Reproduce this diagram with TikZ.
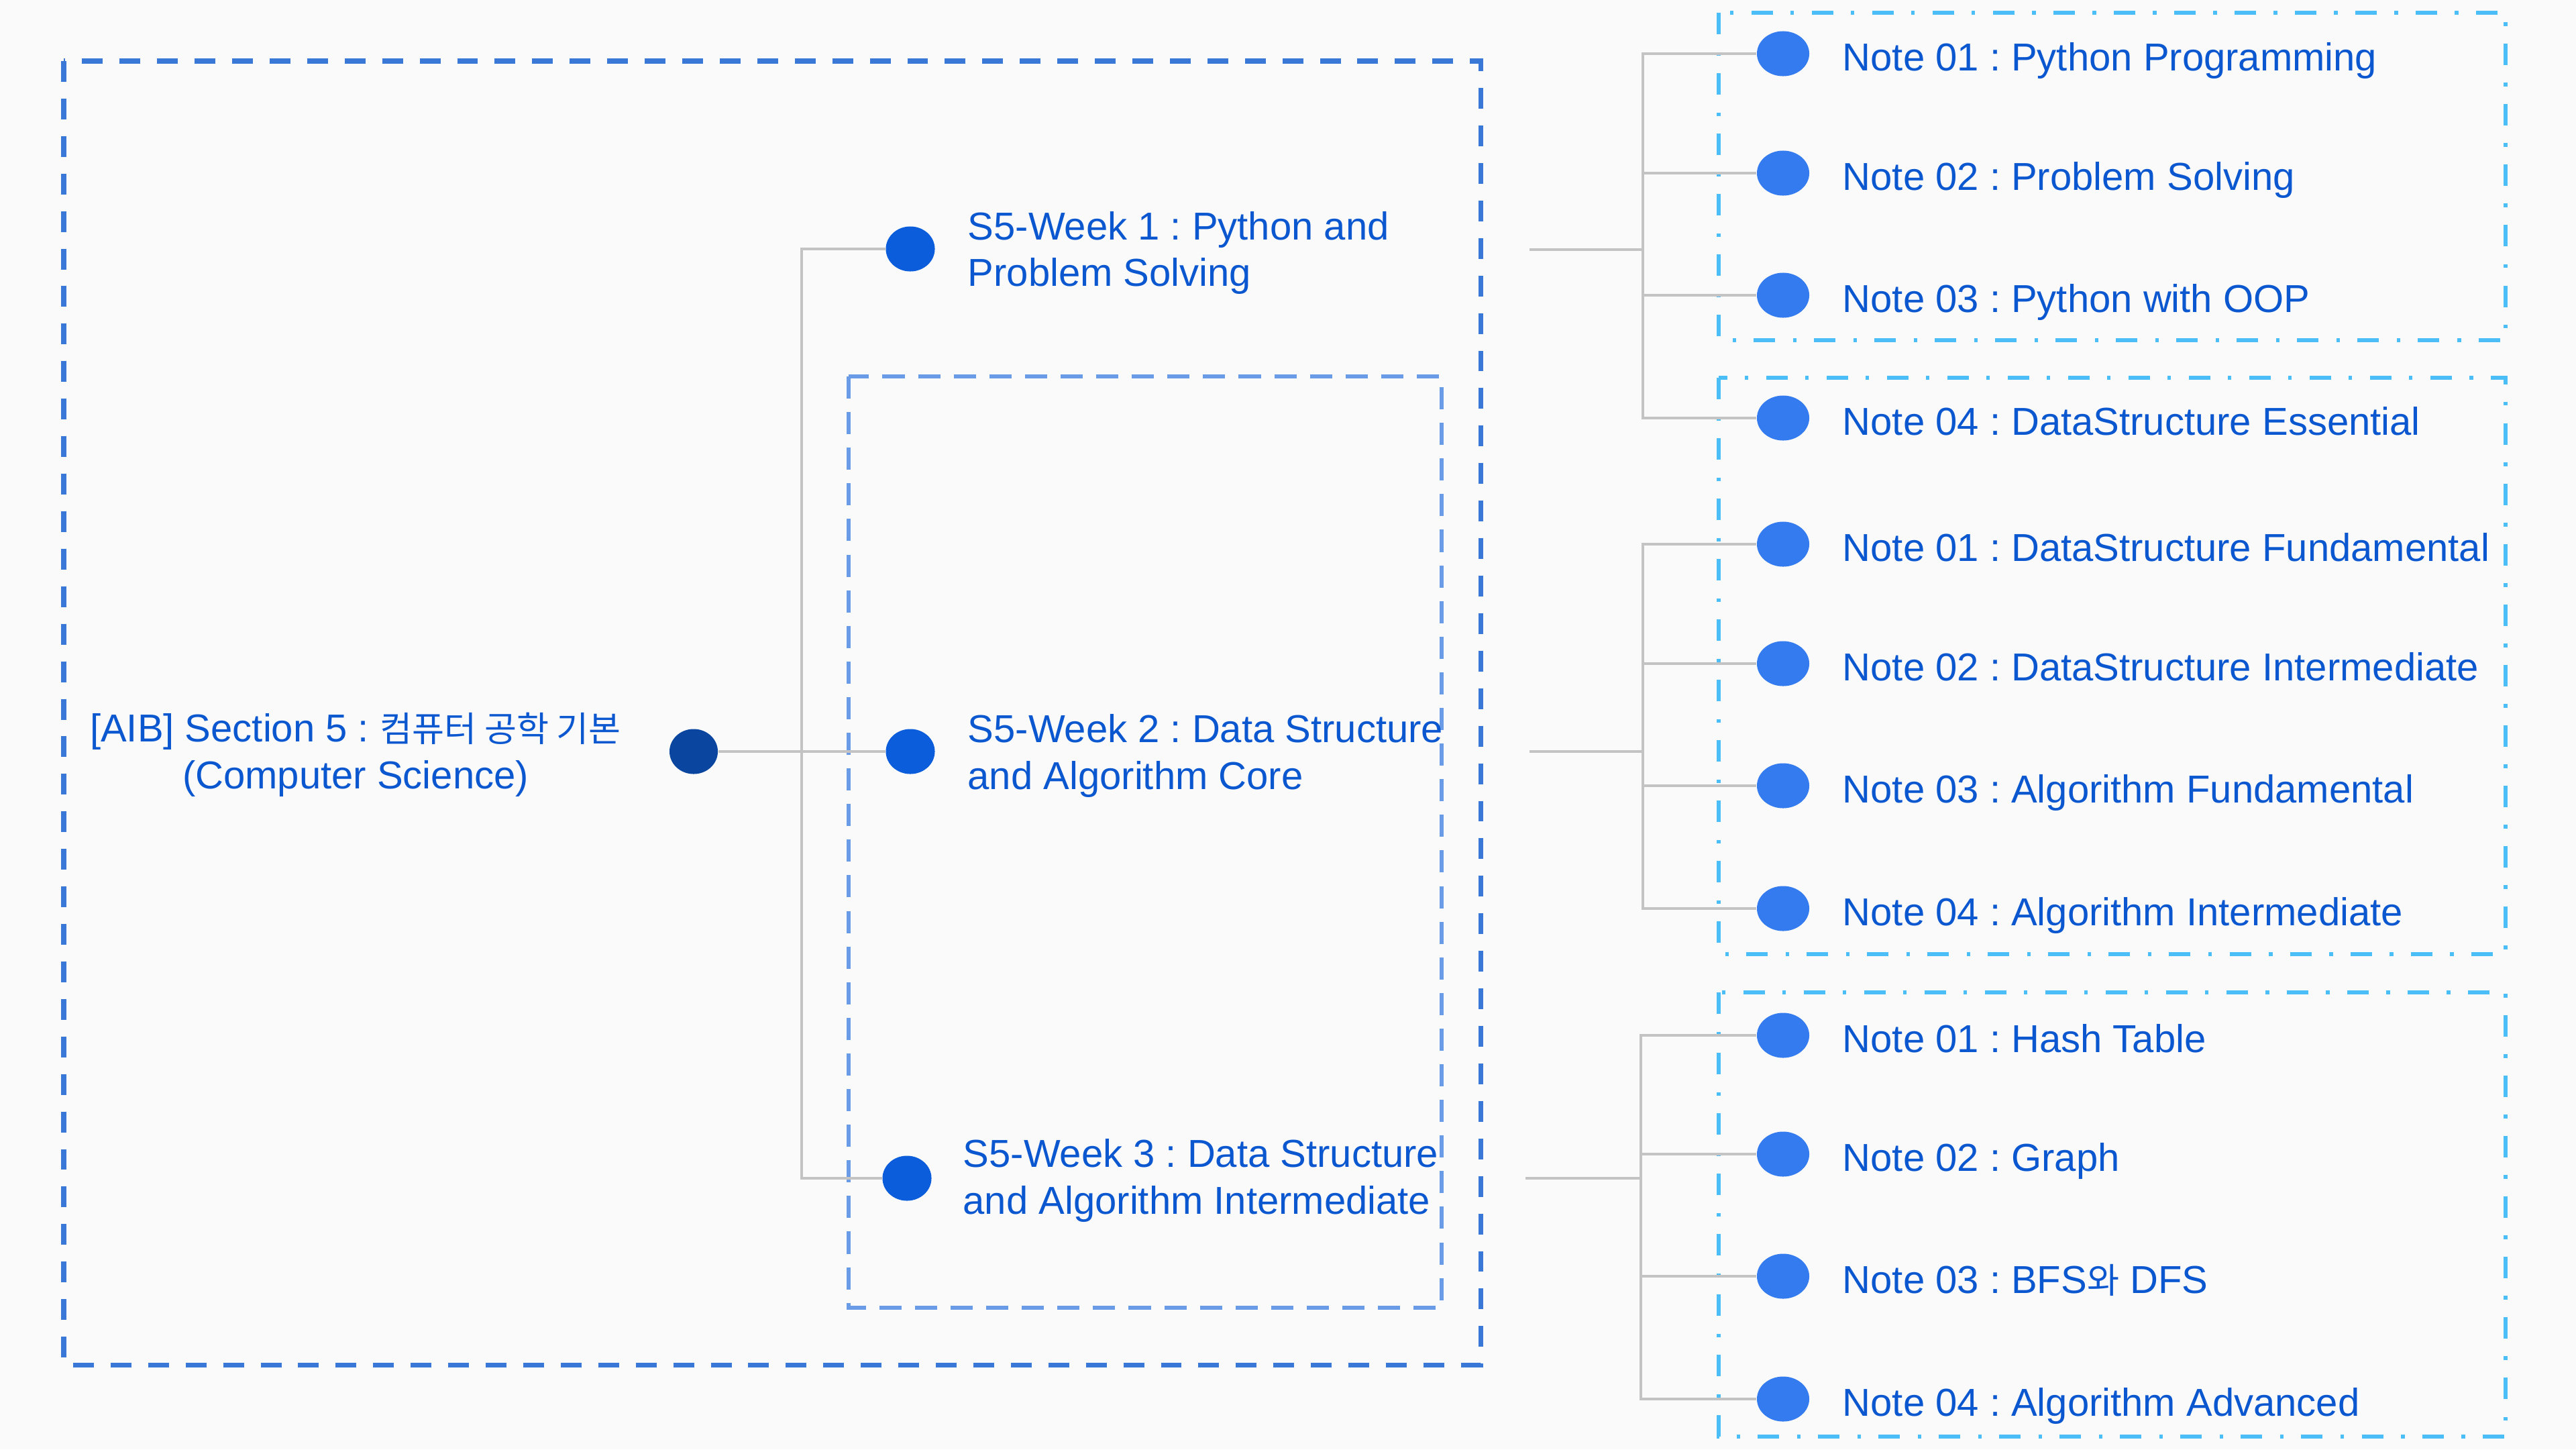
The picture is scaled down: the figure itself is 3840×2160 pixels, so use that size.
\documentclass[tikz,border=0pt]{standalone}
\usepackage{fontspec}
\setmainfont{Liberation Sans}
\newfontfamily\kr{Noto Sans CJK KR}[Scale=0.9]
\usetikzlibrary{shapes.geometric}
\definecolor{bgc}{HTML}{FAFAFA}
\definecolor{outerc}{HTML}{3A78D8}
\definecolor{innerc}{HTML}{6A9BE6}
\definecolor{noteboxc}{HTML}{4BBEF8}
\definecolor{linec}{HTML}{C3C3C3}
\definecolor{txtc}{HTML}{0B57D0}
\definecolor{rootc}{HTML}{0A459F}
\definecolor{weekc}{HTML}{0C5DDC}
\definecolor{notec}{HTML}{347BF0}
\tikzset{
  lbl/.style={text=txtc, inner sep=0pt, font=\fontsize{16.5}{19.9}\selectfont\frenchspacing},
  rootdot/.style={ellipse, fill=rootc, minimum width=0.72cm, minimum height=0.67cm, inner sep=0pt},
  weekdot/.style={ellipse, fill=weekc, minimum width=0.73cm, minimum height=0.67cm, inner sep=0pt},
  notedot/.style={ellipse, fill=notec, minimum width=0.78cm, minimum height=0.67cm, inner sep=0pt},
  conn/.style={draw=linec, line width=1.15pt},
  outerbox/.style={draw=outerc, line width=2pt, dash pattern=on 8.8pt off 7.1pt},
  innerbox/.style={draw=innerc, line width=1.7pt, dash pattern=on 9.4pt off 5.7pt},
  notebox/.style={draw=noteboxc, line width=1.9pt, dash pattern=on 9.1pt off 7.6pt on 1.5pt off 7.4pt}
}
\frenchspacing
\newcommand{\twolines}[2]{\begin{tabular}[t]{@{}l@{}}#1\\#2\end{tabular}}
\begin{document}
\begin{tikzpicture}[x=0.01cm,y=-0.01cm]
\useasboundingbox (0,0) rectangle (3840,2160);
\fill[bgc] (0,0) rectangle (3840,2160);

% boxes
\draw[outerbox] (95,91) rectangle (2207,2034);
\draw[innerbox] (1265,561) rectangle (2149,1949);
\draw[notebox] (2562,19) rectangle (3735,507);
\draw[notebox] (2562,563) rectangle (3735,1422);
\draw[notebox] (2562,1479) rectangle (3735,2141);

% root
\node[rootdot] (root) at (1034,1120) {};
\node[lbl, anchor=base] (roott) at (530,1105) {\begin{tabular}[t]{@{}c@{}}[AIB] Section 5 : {\kr 컴퓨터 공학 기본}\\(Computer Science)\end{tabular}};

% weeks
\node[weekdot] (w1) at (1357,371) {};
\node[weekdot] (w2) at (1357,1120) {};
\node[weekdot] (w3) at (1352,1756) {};
\node[lbl, anchor=base west] (w1t) at (1442,357) {\twolines{S5-Week 1 : Python and}{Problem Solving}};
\node[lbl, anchor=base west] (w2t) at (1442,1106) {\twolines{S5-Week 2 : Data Structure}{and Algorithm Core}};
\node[lbl, anchor=base west] (w3t) at (1435,1739) {\twolines{S5-Week 3 : Data Structure}{and Algorithm Intermediate}};

% notes
\foreach \n/\y/\t in {
  a1/80/{Note 01 : Python Programming},
  a2/258/{Note 02 : Problem Solving},
  a3/440/{Note 03 : Python with OOP},
  a4/623/{Note 04 : DataStructure Essential},
  b1/811/{Note 01 : DataStructure Fundamental},
  b2/989/{Note 02 : DataStructure Intermediate},
  b3/1171/{Note 03 : Algorithm Fundamental},
  b4/1354/{Note 04 : Algorithm Intermediate},
  c1/1543/{Note 01 : Hash Table},
  c2/1720/{Note 02 : Graph},
  c3/1902/{Note 03 : BFS{\kr 와} DFS},
  c4/2085/{Note 04 : Algorithm Advanced}}{
  \node[notedot] (\n) at (2658,\y) {};
  \node[lbl, anchor=base west] (\n t) at (2746,\y+25) {\t};
}

% connectors root -> weeks
\coordinate (rj) at (1195,1120);
\draw[conn] (root.east) -- (rj);
\draw[conn] (rj) |- (w1.west);
\draw[conn] (rj) -- (w2.west);
\draw[conn] (rj) |- (w3.west);

% connectors weeks -> notes
\coordinate (s1) at (2280,372);
\coordinate (j1) at (2449,372);
\coordinate (s2) at (2280,1120);
\coordinate (j2) at (2449,1120);
\coordinate (s3) at (2274,1756);
\coordinate (j3) at (2446,1756);
\draw[conn] (s1) -- (j1);
\draw[conn] (s2) -- (j2);
\draw[conn] (s3) -- (j3);
\foreach \n in {a1,a2,a3,a4} \draw[conn] (j1) |- (\n.west);
\foreach \n in {b1,b2,b3,b4} \draw[conn] (j2) |- (\n.west);
\foreach \n in {c1,c2,c3,c4} \draw[conn] (j3) |- (\n.west);
\end{tikzpicture}
\end{document}
